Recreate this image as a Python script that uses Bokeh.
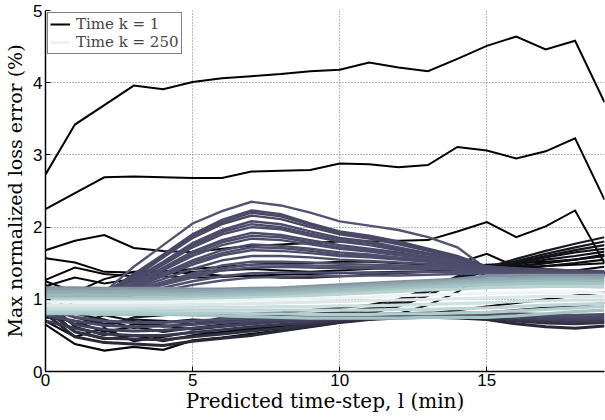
import numpy as np
from bokeh.plotting import figure
from bokeh.models import Range1d, FixedTicker, Legend, LegendItem
from bokeh.embed import file_html
from bokeh.resources import INLINE

# ---------------- data ----------------
steps = list(range(20))
x_ticks = [0, 5, 10, 15]
y_ticks = [0, 1, 2, 3, 4, 5]

# early times (k small) - black
black_top = [
    [2.73, 3.42, 3.69, 3.96, 3.91, 4.01, 4.06, 4.09, 4.12, 4.16, 4.18, 4.28, 4.21, 4.16, 4.33, 4.51, 4.64, 4.46, 4.58, 3.73],
    [2.25, 2.47, 2.69, 2.70, 2.69, 2.68, 2.68, 2.77, 2.78, 2.79, 2.88, 2.87, 2.83, 2.86, 3.11, 3.06, 2.95, 3.05, 3.23, 2.38],
    [1.68, 1.81, 1.89, 1.71, 1.67, 1.65, 1.70, 1.74, 1.76, 1.78, 1.80, 1.80, 1.81, 1.82, 1.94, 2.07, 1.86, 2.01, 2.23, 1.50],
]
black_mid = [
    [1.57, 1.51, 1.38, 1.37, 1.38, 1.42, 1.45, 1.48, 1.50, 1.50, 1.52, 1.52, 1.50, 1.48, 1.50, 1.63, 1.45, 1.42, 1.40, 1.45],
    [1.27, 1.44, 1.35, 1.32, 1.35, 1.38, 1.40, 1.42, 1.40, 1.38, 1.40, 1.42, 1.44, 1.45, 1.46, 1.48, 1.50, 1.52, 1.55, 1.60],
    [1.25, 1.10, 1.28, 1.38, 1.40, 1.35, 1.33, 1.32, 1.30, 1.30, 1.32, 1.34, 1.36, 1.38, 1.40, 1.42, 1.46, 1.50, 1.55, 1.62],
    [1.18, 1.30, 1.22, 1.28, 1.32, 1.30, 1.31, 1.33, 1.34, 1.35, 1.36, 1.37, 1.38, 1.39, 1.40, 1.41, 1.44, 1.46, 1.48, 1.50],
]
black_low = [
    [0.65, 0.38, 0.29, 0.34, 0.30, 0.43, 0.47, 0.52, 0.57, 0.62, 0.68, 0.72, 0.75, 0.78, 0.80, 0.82, 0.85, 0.88, 0.90, 0.95],
    [0.90, 0.55, 0.45, 0.50, 0.42, 0.50, 0.55, 0.60, 0.63, 0.68, 0.72, 0.75, 0.78, 0.80, 0.85, 0.90, 0.95, 1.00, 1.05, 1.10],
    [0.70, 0.48, 0.60, 0.42, 0.48, 0.55, 0.52, 0.58, 0.62, 0.66, 0.70, 0.74, 0.80, 0.92, 1.10, 1.38, 1.42, 1.46, 1.50, 1.55],
    [0.75, 0.70, 0.55, 0.62, 0.55, 0.60, 0.65, 0.68, 0.70, 0.72, 0.75, 0.80, 0.90, 1.05, 1.25, 1.40, 1.45, 1.50, 1.55, 1.60],
    [1.00, 0.62, 0.50, 0.66, 0.64, 0.58, 0.62, 0.66, 0.70, 0.74, 0.78, 0.82, 0.92, 1.06, 1.26, 1.41, 1.48, 1.55, 1.60, 1.66],
    [1.10, 0.80, 0.72, 0.60, 0.68, 0.72, 0.70, 0.72, 0.75, 0.78, 0.80, 0.85, 0.95, 1.10, 1.28, 1.42, 1.50, 1.58, 1.65, 1.70],
    [0.95, 0.75, 0.66, 0.72, 0.70, 0.66, 0.72, 0.75, 0.78, 0.79, 0.81, 0.86, 0.96, 1.11, 1.29, 1.42, 1.52, 1.60, 1.68, 1.75],
    [0.85, 0.65, 0.78, 0.70, 0.62, 0.65, 0.75, 0.78, 0.80, 0.80, 0.82, 0.88, 0.98, 1.12, 1.30, 1.43, 1.53, 1.63, 1.72, 1.80],
    [1.20, 0.90, 0.62, 0.75, 0.78, 0.80, 0.78, 0.80, 0.82, 0.85, 0.88, 0.92, 1.00, 1.15, 1.32, 1.44, 1.56, 1.67, 1.77, 1.86],
]
# dark / purple lines below the light band
purple_low = [
    [0.80, 0.48, 0.40, 0.38, 0.36, 0.42, 0.46, 0.50, 0.56, 0.62, 0.68, 0.72, 0.74, 0.75, 0.74, 0.72, 0.66, 0.62, 0.60, 0.63],
    [0.85, 0.55, 0.46, 0.45, 0.44, 0.48, 0.52, 0.56, 0.60, 0.65, 0.70, 0.73, 0.75, 0.76, 0.76, 0.74, 0.70, 0.67, 0.66, 0.68],
    [0.70, 0.60, 0.52, 0.50, 0.50, 0.54, 0.58, 0.62, 0.65, 0.68, 0.72, 0.75, 0.77, 0.78, 0.78, 0.76, 0.72, 0.70, 0.69, 0.70],
    [0.90, 0.65, 0.58, 0.56, 0.57, 0.60, 0.63, 0.66, 0.69, 0.71, 0.74, 0.76, 0.78, 0.79, 0.79, 0.78, 0.75, 0.73, 0.72, 0.73],
    [0.78, 0.70, 0.64, 0.62, 0.63, 0.65, 0.68, 0.70, 0.72, 0.74, 0.76, 0.78, 0.79, 0.80, 0.80, 0.80, 0.78, 0.76, 0.75, 0.76],
    [0.88, 0.75, 0.70, 0.68, 0.68, 0.70, 0.72, 0.74, 0.75, 0.77, 0.78, 0.79, 0.80, 0.81, 0.81, 0.81, 0.80, 0.79, 0.78, 0.79],
]
# purple hump lines
hump = [
    [1.05, 1.02, 1.10, 1.45, 1.75, 2.05, 2.22, 2.35, 2.30, 2.20, 2.08, 2.02, 1.96, 1.86, 1.72, 1.42, 1.38, 1.36, 1.34, 1.32],
    [1.10, 1.05, 1.08, 1.35, 1.62, 1.90, 2.10, 2.23, 2.18, 2.05, 1.94, 1.88, 1.80, 1.70, 1.60, 1.45, 1.40, 1.38, 1.36, 1.35],
    [1.07, 1.03, 1.09, 1.32, 1.60, 1.88, 2.07, 2.20, 2.15, 2.03, 1.92, 1.86, 1.78, 1.69, 1.59, 1.45, 1.40, 1.38, 1.36, 1.35],
    [1.08, 1.00, 1.12, 1.30, 1.58, 1.85, 2.04, 2.16, 2.11, 2.00, 1.90, 1.84, 1.76, 1.67, 1.58, 1.44, 1.41, 1.39, 1.37, 1.36],
    [1.12, 1.04, 1.06, 1.28, 1.52, 1.78, 1.96, 2.08, 2.04, 1.94, 1.85, 1.80, 1.72, 1.64, 1.57, 1.46, 1.42, 1.40, 1.38, 1.37],
    [1.09, 1.01, 1.07, 1.27, 1.50, 1.75, 1.93, 2.04, 2.00, 1.91, 1.83, 1.78, 1.70, 1.63, 1.56, 1.45, 1.42, 1.40, 1.38, 1.37],
    [1.06, 0.98, 1.10, 1.25, 1.48, 1.72, 1.90, 2.00, 1.97, 1.88, 1.80, 1.75, 1.68, 1.62, 1.55, 1.45, 1.43, 1.41, 1.39, 1.38],
    [1.14, 1.06, 1.04, 1.22, 1.44, 1.66, 1.82, 1.92, 1.89, 1.82, 1.75, 1.70, 1.65, 1.59, 1.54, 1.44, 1.42, 1.40, 1.38, 1.37],
    [1.05, 1.03, 1.09, 1.21, 1.42, 1.63, 1.79, 1.88, 1.86, 1.79, 1.72, 1.68, 1.63, 1.58, 1.53, 1.44, 1.42, 1.40, 1.39, 1.38],
    [1.04, 1.02, 1.08, 1.20, 1.40, 1.60, 1.75, 1.84, 1.82, 1.76, 1.70, 1.66, 1.61, 1.57, 1.52, 1.43, 1.41, 1.40, 1.39, 1.38],
    [1.10, 1.00, 1.06, 1.18, 1.36, 1.54, 1.68, 1.76, 1.74, 1.70, 1.65, 1.62, 1.58, 1.55, 1.50, 1.44, 1.42, 1.41, 1.40, 1.39],
    [1.11, 1.01, 1.05, 1.17, 1.34, 1.51, 1.64, 1.72, 1.71, 1.67, 1.62, 1.60, 1.56, 1.53, 1.49, 1.43, 1.41, 1.40, 1.39, 1.38],
    [1.02, 1.04, 1.10, 1.16, 1.32, 1.48, 1.61, 1.68, 1.67, 1.64, 1.60, 1.58, 1.55, 1.52, 1.48, 1.43, 1.41, 1.40, 1.39, 1.38],
    [1.12, 1.02, 1.05, 1.14, 1.28, 1.42, 1.54, 1.60, 1.60, 1.58, 1.55, 1.53, 1.51, 1.49, 1.46, 1.42, 1.40, 1.39, 1.38, 1.37],
    [1.06, 0.98, 1.08, 1.12, 1.24, 1.36, 1.47, 1.52, 1.52, 1.51, 1.49, 1.48, 1.47, 1.46, 1.44, 1.41, 1.39, 1.38, 1.37, 1.36],
    [1.04, 1.00, 1.07, 1.11, 1.22, 1.33, 1.43, 1.48, 1.48, 1.47, 1.46, 1.45, 1.44, 1.44, 1.42, 1.40, 1.38, 1.37, 1.36, 1.35],
    [1.08, 1.04, 1.04, 1.10, 1.20, 1.30, 1.40, 1.44, 1.45, 1.44, 1.43, 1.43, 1.42, 1.42, 1.41, 1.40, 1.38, 1.37, 1.36, 1.35],
    [1.02, 1.00, 1.06, 1.08, 1.16, 1.25, 1.32, 1.36, 1.37, 1.37, 1.37, 1.37, 1.37, 1.38, 1.38, 1.38, 1.37, 1.36, 1.35, 1.34],
    [1.05, 1.02, 1.02, 1.06, 1.12, 1.20, 1.26, 1.30, 1.31, 1.32, 1.32, 1.33, 1.33, 1.34, 1.35, 1.36, 1.35, 1.35, 1.34, 1.33],
]
# late times - light band
light = [
    [1.16, 1.16, 1.15, 1.15, 1.15, 1.14, 1.14, 1.15, 1.16, 1.18, 1.20, 1.22, 1.24, 1.26, 1.28, 1.32, 1.33, 1.33, 1.33, 1.33],
    [1.13, 1.13, 1.13, 1.12, 1.12, 1.12, 1.12, 1.13, 1.14, 1.16, 1.18, 1.20, 1.22, 1.24, 1.26, 1.28, 1.29, 1.30, 1.30, 1.30],
    [0.80, 0.80, 0.79, 0.79, 0.79, 0.78, 0.77, 0.76, 0.75, 0.74, 0.74, 0.74, 0.74, 0.75, 0.75, 0.75, 0.77, 0.80, 0.83, 0.85],
    [1.10, 1.10, 1.10, 1.10, 1.09, 1.09, 1.10, 1.11, 1.12, 1.14, 1.16, 1.18, 1.20, 1.22, 1.24, 1.26, 1.27, 1.28, 1.28, 1.27],
    [0.83, 0.83, 0.82, 0.82, 0.82, 0.81, 0.81, 0.80, 0.80, 0.79, 0.79, 0.79, 0.80, 0.80, 0.81, 0.82, 0.84, 0.86, 0.88, 0.90],
    [1.06, 1.06, 1.06, 1.06, 1.06, 1.06, 1.07, 1.08, 1.09, 1.11, 1.13, 1.15, 1.17, 1.19, 1.21, 1.23, 1.24, 1.25, 1.25, 1.24],
    [0.86, 0.86, 0.86, 0.86, 0.85, 0.85, 0.85, 0.85, 0.85, 0.85, 0.85, 0.85, 0.86, 0.86, 0.87, 0.88, 0.90, 0.92, 0.93, 0.94],
    [1.02, 1.02, 1.02, 1.02, 1.02, 1.03, 1.04, 1.05, 1.06, 1.08, 1.10, 1.12, 1.14, 1.16, 1.18, 1.20, 1.21, 1.22, 1.22, 1.21],
    [0.89, 0.89, 0.89, 0.89, 0.89, 0.89, 0.89, 0.89, 0.90, 0.90, 0.91, 0.91, 0.92, 0.93, 0.94, 0.95, 0.97, 0.98, 0.99, 0.99],
    [0.99, 0.99, 0.99, 0.99, 0.99, 1.00, 1.01, 1.02, 1.03, 1.05, 1.07, 1.09, 1.11, 1.13, 1.14, 1.16, 1.17, 1.18, 1.18, 1.17],
    [0.92, 0.92, 0.92, 0.92, 0.92, 0.93, 0.93, 0.94, 0.95, 0.96, 0.97, 0.98, 0.99, 1.00, 1.01, 1.02, 1.03, 1.04, 1.04, 1.04],
    [0.96, 0.96, 0.96, 0.96, 0.96, 0.97, 0.98, 0.99, 1.00, 1.01, 1.02, 1.03, 1.05, 1.06, 1.07, 1.08, 1.09, 1.10, 1.10, 1.09],
]

# ---------------- styles ----------------
black_top_t = [0.0, 0.0, 0.01]
black_mid_t = [0.02, 0.03, 0.03, 0.04]
black_low_t = [0.03, 0.05, 0.06, 0.07, 0.08, 0.08, 0.09, 0.10, 0.11]
purple_low_t = [0.18, 0.22, 0.26, 0.30, 0.33, 0.35]
hump_t = [0.37, 0.33, 0.33, 0.33, 0.34, 0.34, 0.34, 0.34, 0.35, 0.35,
          0.35, 0.35, 0.35, 0.35, 0.36, 0.36, 0.36, 0.36, 0.37]
light_t = [0.58, 0.62, 0.74, 0.66, 0.78, 0.70, 0.82, 0.74, 0.86, 0.80, 0.90, 0.95]


def bone(t):
    r = np.interp(t, [0, 0.746032, 1], [0, 0.652778, 1])
    g = np.interp(t, [0, 0.365079, 0.746032, 1], [0, 0.319444, 0.777778, 1])
    b = np.interp(t, [0, 0.365079, 1], [0, 0.444444, 1])
    return "#%02x%02x%02x" % (int(r * 255), int(g * 255), int(b * 255))


p = figure(width=605, height=420, x_range=Range1d(0, 19), y_range=Range1d(0, 5),
           output_backend="svg", toolbar_location=None,
           min_border_left=45, min_border_right=1, min_border_top=10, min_border_bottom=49)
p.outline_line_color = None
p.background_fill_color = "white"
p.border_fill_color = "white"


def draw(group, ts, width):
    out = []
    for vals, t in zip(group, ts):
        r = p.line(steps, vals, line_color=bone(t), line_width=width, line_join="miter")
        out.append(r)
    return out


r_black_top = draw(black_top, black_top_t, 2.0)
draw(black_mid, black_mid_t, 2.0)
draw(black_low, black_low_t, 2.2)
draw(purple_low, purple_low_t, 3.0)
draw(hump, hump_t, 2.4)
r_light = draw(light, light_t, 3.2)

# grid
p.xgrid.ticker = FixedTicker(ticks=x_ticks)
p.ygrid.ticker = FixedTicker(ticks=y_ticks)
for g in (p.xgrid, p.ygrid):
    g.grid_line_color = "#707070"
    g.grid_line_dash = "1 2"
    g.grid_line_width = 1
    g.level = "underlay"

# axes
p.xaxis.ticker = FixedTicker(ticks=x_ticks)
p.yaxis.ticker = FixedTicker(ticks=y_ticks)
for ax in (p.xaxis, p.yaxis):
    ax.axis_line_color = "black"
    ax.axis_line_width = 1.5
    ax.major_tick_in = 5
    ax.major_tick_out = 0
    ax.major_tick_line_color = "black"
    ax.minor_tick_line_color = None
    ax.major_label_text_font = "Liberation Sans"
    ax.major_label_text_font_size = "17px"
    ax.major_label_text_color = "black"
    ax.axis_label_text_font = "DejaVu Serif"
    ax.axis_label_text_font_style = "normal"
    ax.axis_label_text_color = "black"
p.xaxis.axis_label_text_font_size = "20px"
p.yaxis.axis_label_text_font_size = "19px"
p.xaxis.major_label_standoff = 2
p.yaxis.major_label_standoff = 3
p.xaxis.axis_label = "Predicted time-step, l (min)"
p.yaxis.axis_label = "Max normalized loss error (%)"
p.xaxis.axis_label_standoff = 0
p.yaxis.axis_label_standoff = 4

legend = Legend(items=[LegendItem(label="Time k = 1", renderers=[r_black_top[0]]),
                       LegendItem(label="Time k = 250", renderers=[r_light[-1]])],
                location="top_left")
legend.margin = 2
legend.padding = 2
legend.spacing = 0
legend.glyph_width = 20
legend.glyph_height = 12
legend.label_height = 12
legend.label_standoff = 6
legend.label_text_font = "DejaVu Serif"
legend.label_text_font_size = "15px"
legend.label_text_line_height = 0.8
legend.border_line_color = "black"
legend.border_line_width = 1.5
legend.background_fill_alpha = 1.0
p.add_layout(legend)

open("out.html", "w").write(file_html(p, INLINE))
